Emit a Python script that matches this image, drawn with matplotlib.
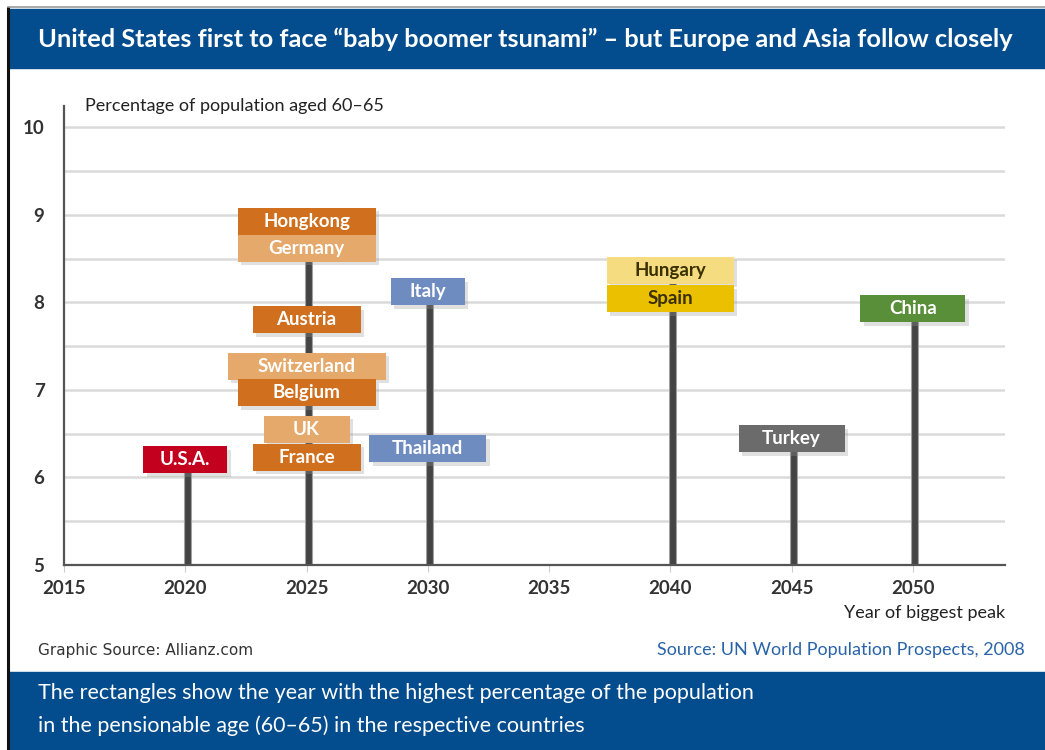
import matplotlib
matplotlib.use("Agg")
import matplotlib.pyplot as plt
from matplotlib.patches import Rectangle
from matplotlib import patheffects as pe

# ---- data ----
countries = ["U.S.A.", "Hongkong", "Germany", "Austria", "Switzerland", "Belgium",
             "UK", "France", "Italy", "Thailand", "Hungary", "Spain", "Turkey", "China"]
peak_years = [2020, 2025, 2025, 2025, 2025, 2025, 2025, 2025, 2030, 2030, 2040, 2040, 2045, 2050]
peak_share = [6.2, 8.93, 8.62, 7.8, 7.27, 6.97, 6.55, 6.23, 8.12, 6.33, 8.37, 8.04, 6.44, 7.93]
x_ticks = [2015, 2020, 2025, 2030, 2035, 2040, 2045, 2050]
y_ticks = [5, 6, 7, 8, 9, 10]

# ---- styles ----
DARK_OR = "#D0701F"
LIGHT_OR = "#E4A96B"
box_colors = ["#C4001F", DARK_OR, LIGHT_OR, DARK_OR, LIGHT_OR, DARK_OR, LIGHT_OR, DARK_OR,
              "#6F8CC0", "#6F8CC0", "#F5DC80", "#EBC000", "#6B6B6B", "#5A8F3A"]
text_colors = ["white"] * 10 + ["#3a3000", "#3a3000", "white", "white"]
box_w_px = [84, 138, 138, 108, 158, 138, 86, 108, 74, 117, 127, 127, 106, 105]
BLUE = "#034C8D"

plt.rcParams['font.family'] = ['Lato', 'DejaVu Sans']

W, H = 1045, 750
fig = plt.figure(figsize=(W / 100, H / 100), dpi=100)

def fx(x): return x / W
def fy(y): return 1 - y / H

# frame
fig.add_artist(plt.Line2D([fx(8), fx(8)], [0, fy(8)], color="#111111", lw=2.2))
fig.add_artist(plt.Line2D([fx(8), 1], [fy(7), fy(7)], color="#999999", lw=1.2))
# banners
fig.patches.append(Rectangle((fx(9), fy(68)), 1 - fx(9), (68 - 9) / H,
                             transform=fig.transFigure, color=BLUE, zorder=0))
fig.patches.append(Rectangle((fx(9), 0), 1 - fx(9), (750 - 672) / H,
                             transform=fig.transFigure, color=BLUE, zorder=0))
fig.text(fx(38), fy(39), "United States first to face \u201cbaby boomer tsunami\u201d \u2013 but Europe and Asia follow closely",
         color="white", fontsize=18.3, fontweight="bold", va="center", ha="left")
fig.text(fx(38), fy(693), "The rectangles show the year with the highest percentage of the population",
         color="white", fontsize=15.5, va="center", ha="left")
fig.text(fx(38), fy(726), "in the pensionable age (60\u201365) in the respective countries",
         color="white", fontsize=15.5, va="center", ha="left")
fig.text(fx(38), fy(650), "Graphic Source: Allianz.com", color="#333333", fontsize=11,
         family=["DejaVu Sans"], va="center", ha="left")
fig.text(fx(1025), fy(650), "Source: UN World Population Prospects, 2008", color="#2A64A8",
         fontsize=13, va="center", ha="right")

# axes
x0, x1, ytop, ybot = 64, 1005, 105.6, 565
ax = fig.add_axes([fx(x0), fy(ybot), (x1 - x0) / W, (ybot - ytop) / H])
ax.set_xlim(2015, 2053.8)
ax.set_ylim(5, 10.25)
for s in ["top", "right"]:
    ax.spines[s].set_visible(False)
ax.spines["left"].set_color("#555555")
ax.spines["bottom"].set_color("#555555")
ax.spines["left"].set_linewidth(1.6)
ax.spines["bottom"].set_linewidth(1.6)
ax.set_yticks([5.5 + 0.5 * i for i in range(10)], minor=True)
ax.set_yticks(y_ticks)
ax.set_xticks(x_ticks)
ax.grid(axis="y", which="both", color="#DADADA", lw=1.8, zorder=0)
ax.tick_params(axis="y", which="minor", length=0)
ax.tick_params(axis="y", which="major", length=0, labelsize=13.5, labelcolor="#333333", pad=14)
ax.tick_params(axis="x", length=5, color="#CCCCCC", labelsize=13.5, labelcolor="#333333", pad=6)
for lab in ax.get_xticklabels() + ax.get_yticklabels():
    lab.set_fontweight("bold")
ax.set_axisbelow(True)

ax.text(0.022, 1.0, "Percentage of population aged 60\u201365", transform=ax.transAxes,
        fontsize=13, color="#222222", ha="left", va="center")
ax.text(1.0, -0.105, "Year of biggest peak", transform=ax.transAxes,
        fontsize=13, color="#222222", ha="right", va="center")

# stems
px_per_year = (x1 - x0) / (2053.8 - 2015)
px_per_unit = (ybot - ytop) / 5.25
box_h = 27 / px_per_unit
tops = {}
for yr, v in zip(peak_years, peak_share):
    tops[yr] = max(tops.get(yr, 0), v)
for yr, v in tops.items():
    ax.plot([yr + 0.1, yr + 0.1], [5, v], color="#444444", lw=4.2, zorder=2, solid_capstyle="butt",
            path_effects=[pe.withStroke(linewidth=5.8, foreground="#a0a0a0")])

# boxes
shadow = [pe.withSimplePatchShadow(offset=(2.5, -2.5), shadow_rgbFace="#999999", alpha=0.3)]
for name, yr, v, c, tc, wpx in zip(countries, peak_years, peak_share, box_colors, text_colors, box_w_px):
    w = wpx / px_per_year
    r = Rectangle((yr - w / 2, v - box_h / 2), w, box_h, facecolor=c, edgecolor="none",
                  zorder=3, path_effects=shadow)
    ax.add_patch(r)
    ax.text(yr, v, name, color=tc, fontsize=13.5, fontweight="bold",
            ha="center", va="center", zorder=4)

fig.savefig("out.png", dpi=100)
